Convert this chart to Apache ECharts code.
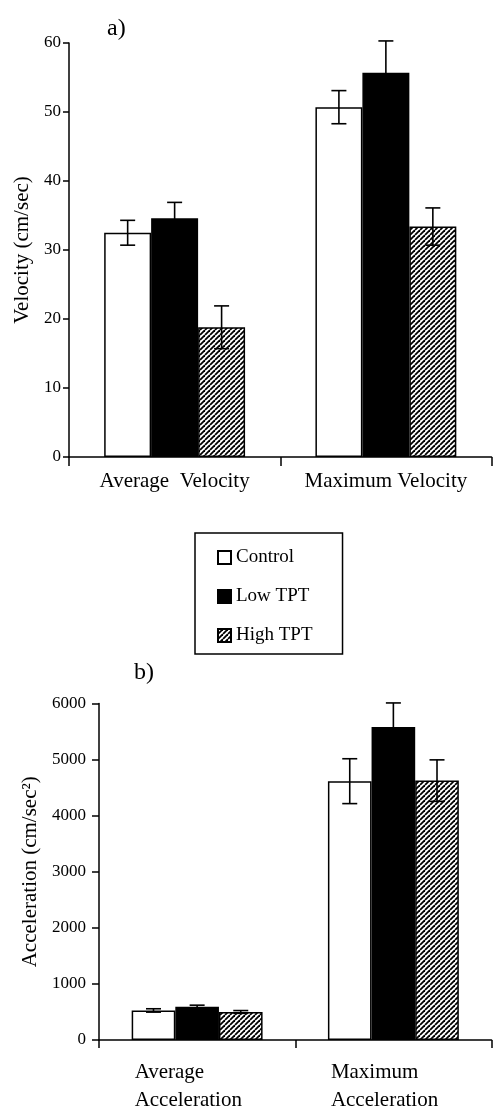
<!DOCTYPE html>
<html>
<head>
<meta charset="utf-8">
<script src="https://cdn.jsdelivr.net/npm/echarts@6/dist/echarts.min.js"></script>
<style>
html,body{margin:0;padding:0;background:#fff;}
#c{width:493px;height:1114px;}
</style>
</head>
<body>
<div id="c"></div>
<script>
// ---- data ----
const seriesNames = ['Control', 'Low TPT', 'High TPT'];
const velCategories = ['Average  Velocity', 'Maximum Velocity'];
const accCategories = ['Average\nAcceleration', 'Maximum\nAcceleration'];
const velControl = [32.5, 50.7];
const velLow = [34.6, 55.7];
const velHigh = [18.8, 33.4];
const velControlErr = [1.8, 2.4];
const velLowErr = [2.3, 4.6];
const velHighErr = [3.1, 2.7];
const accControl = [527, 4615];
const accLow = [591, 5580];
const accHigh = [500, 4625];
const accControlErr = [30, 400];
const accLowErr = [30, 430];
const accHighErr = [25, 370];
const velTicks = { min: 0, max: 60, interval: 10 };
const accTicks = { min: 0, max: 6000, interval: 1000 };

// ---- styles ----
const FONT = '"Liberation Serif", "Times New Roman", serif';
const GAP = 0.333;

function hatch() {
  const s = 5;
  const cv = document.createElement('canvas');
  cv.width = s; cv.height = s;
  const ctx = cv.getContext('2d');
  ctx.fillStyle = '#fff';
  ctx.fillRect(0, 0, s, s);
  ctx.strokeStyle = '#000';
  ctx.lineWidth = 1.8;
  for (const k of [-s, 0, s]) {
    ctx.beginPath();
    ctx.moveTo(k, s);
    ctx.lineTo(k + s, 0);
    ctx.stroke();
  }
  return cv;
}
const hatchPattern = { image: hatch(), repeat: 'repeat' };

const itemStyles = [
  { color: '#ffffff', borderColor: '#000', borderWidth: 1.5 },
  { color: '#000000', borderColor: '#000', borderWidth: 1.5 },
  { color: hatchPattern, borderColor: '#000', borderWidth: 1.5 }
];

function errRender(params, api) {
  const cat = api.value(0), val = api.value(1), err = api.value(2), s = api.value(3);
  const bandW = api.size([1, 0])[0];
  const barW = bandW * (1 - GAP) / 3;
  const cx = api.coord([cat, val])[0] + (s - 1) * barW;
  const yt = api.coord([cat, val + err])[1];
  const yb = api.coord([cat, val - err])[1];
  const cap = 7.5;
  const st = { stroke: '#000', lineWidth: 1.6 };
  return {
    type: 'group',
    children: [
      { type: 'line', shape: { x1: cx, y1: yt, x2: cx, y2: yb }, style: st },
      { type: 'line', shape: { x1: cx - cap, y1: yt, x2: cx + cap, y2: yt }, style: st },
      { type: 'line', shape: { x1: cx - cap, y1: yb, x2: cx + cap, y2: yb }, style: st }
    ]
  };
}

function errData(vals, errs) {
  const out = [];
  vals.forEach((v, s) => v.forEach((y, i) => out.push([i, y, errs[s][i], s])));
  return out;
}

const axisLine = { show: true, lineStyle: { color: '#000', width: 1.5 } };

const chart = echarts.init(document.getElementById('c'), null, { renderer: 'canvas' });
const velVals = [velControl, velLow, velHigh];
const velErrs = [velControlErr, velLowErr, velHighErr];
const accVals = [accControl, accLow, accHigh];
const accErrs = [accControlErr, accLowErr, accHighErr];

const series = [];
seriesNames.forEach((n, s) => {
  series.push({ type: 'bar', name: n, xAxisIndex: 0, yAxisIndex: 0, data: velVals[s],
    itemStyle: itemStyles[s], barGap: '0%', barCategoryGap: '33.3%', animation: false });
});
seriesNames.forEach((n, s) => {
  series.push({ type: 'bar', name: n, xAxisIndex: 1, yAxisIndex: 1, data: accVals[s],
    itemStyle: itemStyles[s], barGap: '0%', barCategoryGap: '33.3%', animation: false });
});
series.push({ type: 'custom', xAxisIndex: 0, yAxisIndex: 0, renderItem: errRender,
  data: errData(velVals, velErrs), z: 10, silent: true, clip: false, animation: false,
  encode: { x: 0, y: 1 } });
series.push({ type: 'custom', xAxisIndex: 1, yAxisIndex: 1, renderItem: errRender,
  data: errData(accVals, accErrs), z: 10, silent: true, clip: false, animation: false,
  encode: { x: 0, y: 1 } });

chart.setOption({
  animation: false,
  backgroundColor: '#fff',
  textStyle: { fontFamily: FONT, color: '#000' },
  title: [
    { text: 'a)', left: 102, top: 12, textStyle: { fontFamily: FONT, fontSize: 24, fontWeight: 'normal', color: '#000' } },
    { text: 'b)', left: 129, top: 656, textStyle: { fontFamily: FONT, fontSize: 24, fontWeight: 'normal', color: '#000' } }
  ],
  legend: {
    data: seriesNames,
    orient: 'vertical',
    left: 195, top: 533,
    padding: [15, 30, 9, 22],
    itemGap: 20,
    itemWidth: 13, itemHeight: 13,
    icon: 'rect',
    borderColor: '#000', borderWidth: 1.5,
    textStyle: { fontFamily: FONT, fontSize: 19, color: '#000' },
    selectedMode: false
  },
  grid: [
    { left: 69, right: 1.5, top: 43, height: 414, containLabel: false },
    { left: 99, right: 1.5, top: 703.5, height: 338, containLabel: false }
  ],
  xAxis: [
    { type: 'category', gridIndex: 0, data: velCategories, axisLine,
      axisTick: { show: true, length: 9, lineStyle: { color: '#000', width: 1.5 } },
      axisLabel: { fontFamily: FONT, fontSize: 21, color: '#000', margin: 14, interval: 0, hideOverlap: false } },
    { type: 'category', gridIndex: 1, data: accCategories, axisLine,
      axisTick: { show: true, length: 8, lineStyle: { color: '#000', width: 1.5 } },
      axisLabel: { fontFamily: FONT, fontSize: 21, color: '#000', margin: 18, lineHeight: 28, interval: 0, hideOverlap: false,
        formatter: v => v.split('\n').map(t => '{a|' + t + '}').join('\n'),
        rich: { a: { fontFamily: FONT, fontSize: 21, color: '#000', width: 125, align: 'left', lineHeight: 28 } } } }
  ],
  yAxis: [
    { type: 'value', gridIndex: 0, min: velTicks.min, max: velTicks.max, interval: velTicks.interval,
      axisLine, splitLine: { show: false },
      axisTick: { show: true, length: 6, lineStyle: { color: '#000', width: 1.5 } },
      axisLabel: { fontFamily: FONT, fontSize: 17, color: '#000', margin: 8, formatter: v => String(v) },
      name: 'Velocity (cm/sec)', nameLocation: 'middle', nameGap: 36,
      nameTextStyle: { fontFamily: FONT, fontSize: 21, color: '#000' } },
    { type: 'value', gridIndex: 1, min: accTicks.min, max: accTicks.max, interval: accTicks.interval,
      axisLine, splitLine: { show: false },
      axisTick: { show: true, length: 7, lineStyle: { color: '#000', width: 1.5 } },
      axisLabel: { fontFamily: FONT, fontSize: 17, color: '#000', margin: 13, formatter: v => String(v) },
      name: 'Acceleration (cm/sec²)', nameLocation: 'middle', nameGap: 56,
      nameTextStyle: { fontFamily: FONT, fontSize: 21, color: '#000' } }
  ],
  series
});
</script>
</body>
</html>
